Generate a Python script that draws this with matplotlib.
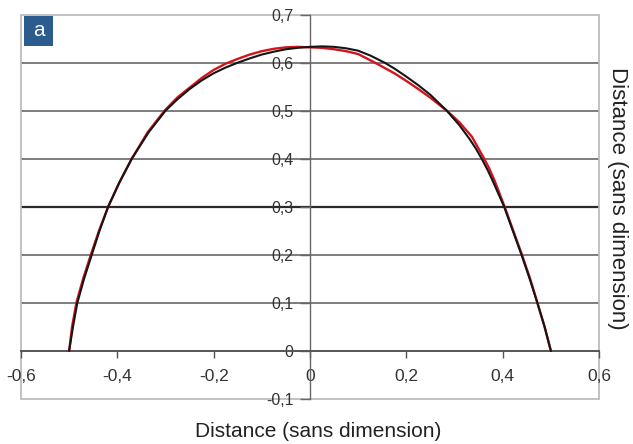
import matplotlib
matplotlib.use("Agg")
import matplotlib.pyplot as plt
from matplotlib.patches import Rectangle

plt.rcParams['font.family'] = ['Liberation Sans', 'DejaVu Sans']

# black curve (measured profile)
black_x = [-0.5, -0.492, -0.483, -0.469, -0.453, -0.437, -0.419, -0.396, -0.37, -0.335, -0.30,
           -0.275, -0.25, -0.225, -0.2, -0.175, -0.15, -0.125, -0.1, -0.075, -0.05, -0.025,
           0.0, 0.025, 0.05, 0.075, 0.1, 0.125, 0.155, 0.175, 0.2, 0.225, 0.25, 0.284, 0.31,
           0.332, 0.345, 0.358, 0.37, 0.381, 0.403, 0.421, 0.439, 0.456, 0.472, 0.487, 0.5]
black_y = [0.0, 0.05, 0.1, 0.15, 0.2, 0.25, 0.3, 0.35, 0.4, 0.455, 0.5,
           0.524, 0.545, 0.563, 0.578, 0.590, 0.6, 0.609, 0.617, 0.623, 0.628, 0.631,
           0.633, 0.634, 0.633, 0.63, 0.625, 0.615, 0.6, 0.588, 0.571, 0.553, 0.533, 0.5, 0.47,
           0.44, 0.42, 0.397, 0.374, 0.35, 0.3, 0.25, 0.2, 0.15, 0.1, 0.05, 0.0]

# red curve (model)
red_x = [-0.5, -0.494, -0.485, -0.471, -0.455, -0.438, -0.419, -0.396, -0.37, -0.337, -0.302,
         -0.276, -0.25, -0.225, -0.2, -0.175, -0.15, -0.125, -0.1, -0.075, -0.05, -0.025,
         0.0, 0.025, 0.05, 0.075, 0.1, 0.135, 0.175, 0.2, 0.225, 0.25, 0.284, 0.31,
         0.336, 0.36, 0.372, 0.383, 0.404, 0.422, 0.44, 0.457, 0.472, 0.487, 0.5]
red_y = [0.0, 0.05, 0.1, 0.15, 0.2, 0.25, 0.3, 0.35, 0.4, 0.455, 0.5,
         0.527, 0.548, 0.568, 0.585, 0.598, 0.608, 0.617, 0.624, 0.629, 0.632, 0.633,
         0.632, 0.631, 0.628, 0.624, 0.618, 0.6, 0.578, 0.562, 0.545, 0.527, 0.5, 0.476,
         0.446, 0.403, 0.38, 0.355, 0.3, 0.25, 0.2, 0.15, 0.1, 0.05, 0.0]

x_ticks = [-0.6, -0.4, -0.2, 0.0, 0.2, 0.4, 0.6]
x_tick_labels = ['-0,6', '-0,4', '-0,2', '0', '0,2', '0,4', '0,6']
y_ticks = [-0.1, 0.0, 0.1, 0.2, 0.3, 0.4, 0.5, 0.6, 0.7]
y_tick_labels = ['-0,1', '0', '0,1', '0,2', '0,3', '0,4', '0,5', '0,6', '0,7']

xlabel = 'Distance (sans dimension)'
ylabel = 'Distance (sans dimension)'
panel = 'a'

fig = plt.figure(figsize=(6.33, 4.44), dpi=100)
ax = fig.add_axes([21/633, 1-398.7/444, 578/633, 384/444])
ax.set_xlim(-0.6, 0.6)
ax.set_ylim(-0.1, 0.7)

# horizontal grid lines
for yv in y_ticks:
    if yv in (-0.1, 0.0, 0.7):
        continue
    if abs(yv - 0.3) < 1e-9:
        ax.axhline(yv, color='#2a2a2a', lw=1.6, zorder=1)
    else:
        ax.axhline(yv, color='#7d7d7d', lw=1.4, zorder=1)

# frame
ax.add_patch(Rectangle((0, 0), 1, 1, transform=ax.transAxes, fill=False,
                       edgecolor='#b8b8b8', lw=1.2, zorder=1, clip_on=False))

for s in ['top', 'right']:
    ax.spines[s].set_visible(False)
ax.spines['left'].set_position(('data', 0))
ax.spines['bottom'].set_position(('data', 0))
ax.spines['left'].set_color('#666666')
ax.spines['bottom'].set_color('#555555')
ax.spines['left'].set_linewidth(1.0)
ax.spines['bottom'].set_linewidth(1.4)
ax.spines['left'].set_zorder(2)
ax.spines['bottom'].set_zorder(2)

ax.set_xticks(x_ticks)
ax.set_xticklabels(x_tick_labels)
ax.set_yticks(y_ticks)
ax.set_yticklabels(y_tick_labels)
ax.tick_params(axis='x', direction='out', length=5, width=1, color='#555555',
               labelsize=12.5, pad=8, labelcolor='#333333')
ax.tick_params(axis='y', direction='out', length=7, width=1, color='#666666',
               labelsize=11.5, pad=5, labelcolor='#333333')

ax.plot(red_x, red_y, color='#d4141c', lw=1.7, zorder=3, solid_joinstyle='round')
ax.plot(black_x, black_y, color='#151515', lw=1.5, zorder=4, solid_joinstyle='round')

# panel label
fig.patches.append(Rectangle((24/633, 1-46/444), 29/633, 30/444, transform=fig.transFigure,
                             facecolor='#2c5b8d', edgecolor='none', zorder=5))
fig.text(38.5/633, 1-31/444, panel, color='white', fontsize=15, ha='center', va='center', zorder=6)

fig.text(318/633, 1-431/444, xlabel, fontsize=15, ha='center', va='center', color='#222222')
fig.text(617.5/633, 1-198/444, ylabel, fontsize=16, ha='center', va='center', rotation=-90,
         color='#222222')

fig.savefig('out.png', dpi=100)
